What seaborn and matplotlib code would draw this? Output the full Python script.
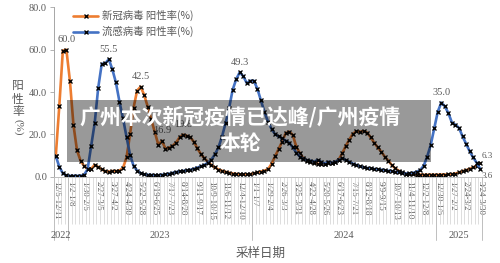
import numpy as np
import pandas as pd
import seaborn as sns
import matplotlib
matplotlib.use("Agg")
import matplotlib.pyplot as plt
from matplotlib.lines import Line2D
from matplotlib.patches import Rectangle
import matplotlib.transforms as mtrans

# ---------------- data ----------------
covid = [9.7, 33.4, 59.6, 60.0, 45.3, 24.4, 12.4, 7.5, 5.0, 3.5,
         3.6, 5.5, 4.5, 3.4, 2.5, 2.3, 2.6, 2.5, 2.8, 4.0,
         9.0, 20.0, 32.6, 40.7, 42.5, 38.6, 33.0, 27.0, 21.0, 15.0,
         16.9, 13.2, 13.6, 14.5, 16.0, 18.5, 19.8, 19.3, 18.6, 16.5,
         13.4, 10.7, 8.6, 7.0, 5.4, 4.3, 3.3, 2.7, 2.2, 1.8,
         1.4, 1.2, 1.0, 1.0, 1.0, 1.1, 1.5, 1.9, 2.3, 2.8,
         3.4, 6.0, 9.5, 13.0, 16.5, 20.5, 21.2, 19.7, 14.1, 11.0,
         8.6, 7.5, 7.0, 6.5, 6.1, 5.8, 6.1, 6.5, 6.5, 7.0,
         8.0, 11.0, 14.5, 17.5, 20.2, 21.4, 21.2, 21.5, 20.8, 18.6,
         16.0, 13.8, 11.8, 9.4, 7.5, 5.4, 3.8, 2.7, 1.9, 1.4,
         1.2, 1.0, 0.9, 0.9, 0.8, 0.8, 0.8, 0.8, 0.8, 0.9,
         0.9, 1.0, 1.1, 1.4, 1.9, 2.5, 3.0, 3.6, 4.3, 5.2,
         6.3]
flu = [9.7, 4.6, 1.5, 0.5, 0.3, 0.3, 0.3, 0.3, 0.8, 3.4,
       14.4, 25.2, 42.0, 53.3, 53.6, 55.5, 50.7, 44.5, 35.5, 27.6,
       18.8, 10.2, 5.0, 2.8, 1.6, 1.0, 0.8, 0.7, 0.6, 0.6,
       0.8, 1.0, 1.3, 1.7, 2.1, 2.4, 2.6, 2.9, 3.2, 3.6,
       4.2, 4.8, 5.5, 6.5, 8.0, 10.5, 13.8, 18.9, 25.2, 32.3,
       41.0, 46.0, 49.3, 47.5, 44.2, 45.3, 45.3, 41.5, 36.0, 30.5,
       26.0, 22.5, 20.0, 19.0, 18.0, 17.0, 16.0, 13.8, 11.3, 9.4,
       8.1, 7.8, 7.5, 7.0, 7.8, 7.0, 6.1, 7.0, 6.5, 7.0,
       7.8, 8.6, 7.8, 7.0, 6.1, 5.4, 4.8, 4.3, 4.0, 3.8,
       3.5, 3.4, 3.2, 3.0, 2.7, 2.5, 2.2, 1.9, 1.6, 1.4,
       1.5, 1.7, 2.2, 3.0, 5.0, 9.4, 14.9, 22.8, 30.7, 35.0,
       33.2, 30.0, 25.5, 24.5, 23.0, 19.0, 15.5, 12.0, 9.0, 6.5,
       3.6]
tick_labels = ["12/5-12/11", "1/2-1/8", "1/30-2/5", "2/27-3/5", "3/27-4/2",
               "4/24-4/30", "5/22-5/28", "6/19-6/25", "7/17-7/23", "8/14-8/20",
               "9/11-9/17", "10/9-10/15", "11/6-11/12", "12/4-12/10", "1/1-1/7",
               "1/29-2/4", "2/26-3/3", "3/25-3/31", "4/22-4/28", "5/20-5/26",
               "6/17-6/23", "7/15-7/21", "8/12-8/18", "9/9-9/15", "10/7-10/13",
               "11/4-11/10", "12/2-12/8", "12/30-1/5", "1/27-2/2", "2/24-3/2",
               "3/24-3/30"]
years = ["2022", "2023", "2024", "2025"]
year_weeks = [4, 52, 52, 13]
series_names = ["新冠病毒 阳性率(%)", "流感病毒 阳性率(%)"]
covid_labels = [3, 24, 30, 36, 120]
flu_labels = [15, 52, 109, 120]

# ---------------- style ----------------
sns.set_theme(style="white")
plt.rcParams['font.family'] = ['Liberation Serif', 'Noto Sans CJK SC']
ORANGE = "#ED7D31"
BLUE = "#4472C4"
GREY = "#595959"
W, H = 500, 263

fig = plt.figure(figsize=(5.0, 2.63), dpi=100)
ax = fig.add_axes([54 / W, 1 - 176.5 / H, (482 - 54) / W, (176.5 - 7.5) / H])

n = len(covid)
df = pd.DataFrame({"week": np.arange(n), series_names[0]: covid, series_names[1]: flu})
long = df.melt(id_vars="week", var_name="series", value_name="value")
sns.lineplot(data=long, x="week", y="value", hue="series", hue_order=series_names,
             palette=[ORANGE, BLUE], linewidth=1.9, marker="x", markersize=3.3,
             mec="black", mew=0.95, ax=ax, legend=False, sort=False)

ax.set_xlim(-0.5, n - 0.5)
ax.set_ylim(0, 80)
ax.set_xlabel("")
ax.set_ylabel("")

# y axis
ax.set_yticks([0, 20, 40, 60, 80])
ax.set_yticklabels([f"{v:.1f}" for v in [0, 20, 40, 60, 80]])
ax.tick_params(axis="y", direction="out", length=3, width=0.6, color="#A6A6A6",
               labelsize=7.5, labelcolor=GREY, pad=2, left=True)
for s in ["top", "right"]:
    ax.spines[s].set_visible(False)
ax.spines["left"].set_color("#A6A6A6")
ax.spines["left"].set_linewidth(0.7)
ax.spines["bottom"].set_color("#BFBFBF")
ax.spines["bottom"].set_linewidth(0.7)

# x axis: labels every 4 weeks, a tick line at every week boundary
ax.set_xticks(np.arange(0, n, 4))
ax.set_xticklabels(tick_labels, rotation=-90, fontsize=6.3, color=GREY)
ax.tick_params(axis="x", which="major", length=0, pad=3)
ax.set_xticks(np.arange(-0.5, n, 1), minor=True)
ax.tick_params(axis="x", which="minor", direction="out", length=34, width=0.5,
               color="#D0D0D0", bottom=True)

# year group separators and labels
trans = mtrans.blended_transform_factory(ax.transData, fig.transFigure)
bounds = np.concatenate([[0], np.cumsum(year_weeks)]) - 0.5
for b in bounds:
    fig.add_artist(Line2D([b, b], [1 - 176.5 / H, 1 - 240 / H], transform=trans,
                          color="#BFBFBF", lw=0.7))
for yname, a, b in zip(years, bounds[:-1], bounds[1:]):
    fig.text((a + b) / 2, 1 - 235 / H, yname, transform=trans, ha="center",
             va="center", fontsize=7.5, color=GREY)

# axis titles
fig.text(261 / W, 1 - 253 / H, "采样日期", ha="center", va="center", fontsize=9,
         color=GREY, family=["Noto Sans CJK SC"])
for ch, yy in zip("阳性率", [85, 99, 112]):
    fig.text(18 / W, 1 - yy / H, ch, ha="center", va="center", fontsize=8.5,
             color=GREY, family=["Noto Sans CJK SC"])
fig.text(18 / W, 1 - 127 / H, "(%)", ha="center", va="center", fontsize=8,
         color=GREY, rotation=-90, family=["Liberation Serif"])

# data labels
for i in covid_labels:
    if i == n - 1:
        ax.annotate(f"{covid[i]:.1f}", (i, covid[i]), xytext=(1, 5), textcoords="offset points",
                    ha="left", va="center", fontsize=6.5, color=GREY)
    else:
        ax.annotate(f"{covid[i]:.1f}", (i, covid[i]), xytext=(0, 4), textcoords="offset points",
                    ha="center", va="bottom", fontsize=7.5, color=GREY)
for i in flu_labels:
    if i == n - 1:
        ax.annotate(f"{flu[i]:.1f}", (i, flu[i]), xytext=(1, -5), textcoords="offset points",
                    ha="left", va="center", fontsize=6.5, color=GREY)
    else:
        ax.annotate(f"{flu[i]:.1f}", (i, flu[i]), xytext=(0, 4), textcoords="offset points",
                    ha="center", va="bottom", fontsize=7.5, color=GREY)

# legend
handles = [Line2D([], [], color=ORANGE, lw=1.9, marker="x", ms=3.3, mec="black", mew=0.95),
           Line2D([], [], color=BLUE, lw=1.9, marker="x", ms=3.3, mec="black", mew=0.95)]
leg = fig.legend(handles, series_names, loc="upper left", bbox_to_anchor=(64 / W, 1 - 1 / H),
                 frameon=False, handlelength=2.4, handletextpad=0.3,
                 labelspacing=0.45, prop={"family": ["Noto Sans CJK SC"], "size": 7.5})
for t in leg.get_texts():
    t.set_color(GREY)

# overlay banner
fig.add_artist(Rectangle((67 / W, 1 - 162 / H), (431 - 67) / W, (162 - 100) / H,
                         transform=fig.transFigure, facecolor="black", alpha=0.4,
                         edgecolor="none", zorder=10))
fig.text(240 / W, 1 - 117 / H, "广州本次新冠疫情已达峰/广州疫情", ha="center", va="center",
         fontsize=15, color="white", fontweight="bold", family=["Noto Sans CJK SC"], zorder=11)
fig.text(240 / W, 1 - 143 / H, "本轮", ha="center", va="center",
         fontsize=15, color="white", fontweight="bold", family=["Noto Sans CJK SC"], zorder=11)

fig.savefig("out.png", dpi=100)
